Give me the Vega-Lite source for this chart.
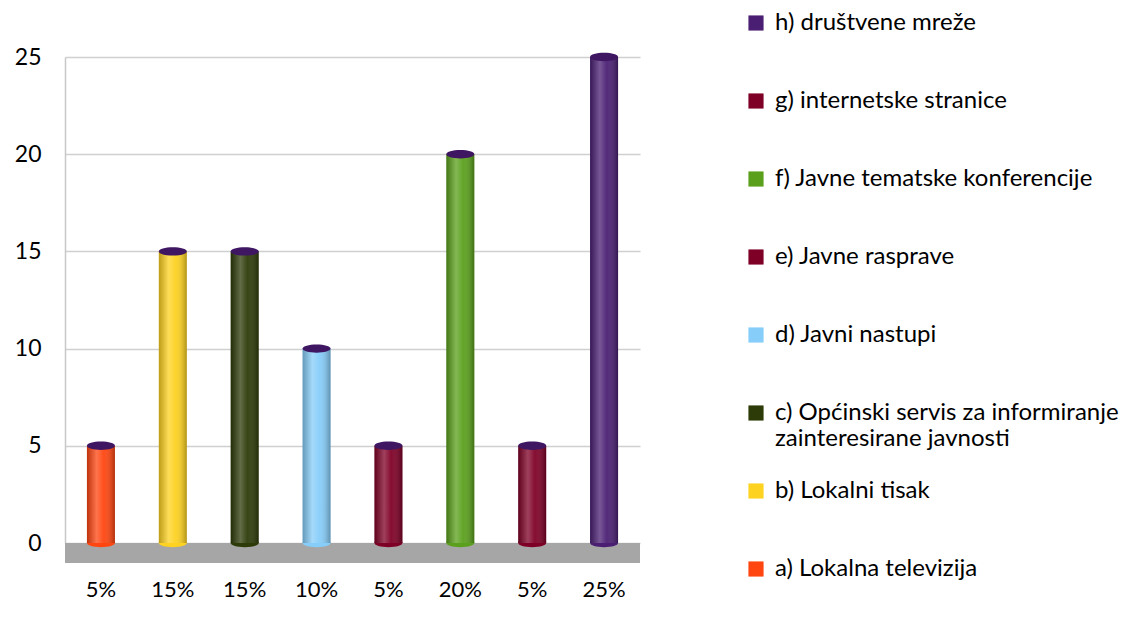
{
  "$schema": "https://vega.github.io/schema/vega-lite/v6.json",
  "width": 575,
  "height": 486,
  "autosize": {"type": "none"},
  "padding": {"left": 65, "top": 57, "right": 487, "bottom": 95},
  "background": "white",
  "config": {
    "font": "Lato",
    "view": {"stroke": null},
    "axis": {"labelFont": "Lato", "labelFontSize": 23, "labelColor": "#000000"}
  },
  "data": {
    "values": [
      {"key": "a", "pct": "5%", "name": "a) Lokalna televizija", "value": 5},
      {"key": "b", "pct": "15%", "name": "b) Lokalni tisak", "value": 15},
      {"key": "c", "pct": "15%", "name": "c) Općinski servis za informiranje|zainteresirane javnosti", "value": 15},
      {"key": "d", "pct": "10%", "name": "d) Javni nastupi", "value": 10},
      {"key": "e", "pct": "5%", "name": "e) Javne rasprave", "value": 5},
      {"key": "f", "pct": "20%", "name": "f) Javne tematske konferencije", "value": 20},
      {"key": "g", "pct": "5%", "name": "g) internetske stranice", "value": 5},
      {"key": "h", "pct": "25%", "name": " h) društvene mreže", "value": 25}
    ]
  },
  "encoding": {
    "x": {
      "field": "key",
      "type": "nominal",
      "sort": ["a", "b", "c", "d", "e", "f", "g", "h"],
      "axis": {
        "title": null,
        "domain": false,
        "ticks": false,
        "labelAngle": 0,
        "labelPadding": 36,
        "labelFontSize": 22,
        "labelExpr": "datum.value == 'a' ? '5%' : datum.value == 'b' ? '15%' : datum.value == 'c' ? '15%' : datum.value == 'd' ? '10%' : datum.value == 'e' ? '5%' : datum.value == 'f' ? '20%' : datum.value == 'g' ? '5%' : '25%'"
      }
    },
    "y": {
      "field": "value",
      "type": "quantitative",
      "scale": {"domain": [0, 25]},
      "axis": {
        "title": null,
        "values": [0, 5, 10, 15, 20, 25],
        "domain": true,
        "domainColor": "#c8c8c8",
        "domainWidth": 1.5,
        "ticks": false,
        "labelPadding": 24,
        "grid": true,
        "gridColor": "#d0d0d0",
        "gridWidth": 1.5
      }
    }
  },
  "layer": [
    {
      "mark": {"type": "rect", "color": "#a6a6a6"},
      "encoding": {
        "x": {"value": 0},
        "x2": {"value": 575},
        "y": {"datum": 0},
        "y2": {"datum": -1.0}
      }
    },
    {
      "mark": {"type": "bar", "size": 28},
      "encoding": {
        "color": {
          "field": "name",
          "type": "nominal",
          "scale": {
            "domain": [" h) društvene mreže", "g) internetske stranice", "f) Javne tematske konferencije", "e) Javne rasprave", "d) Javni nastupi", "c) Općinski servis za informiranje|zainteresirane javnosti", "b) Lokalni tisak", "a) Lokalna televizija"],
            "range": ["#4a1f73", "#7f0027", "#5aa01c", "#7f0027", "#86cdf9", "#2d3b08", "#fdd220", "#ff4510"]
          },
          "legend": {
            "title": null,
            "orient": "none",
            "legendX": 679,
            "legendY": -46,
            "direction": "vertical",
            "columns": 1,
            "gridAlign": "all",
            "symbolType": "square",
            "symbolSize": 230,
            "symbolStrokeWidth": 0,
            "labelFont": "Lato",
            "labelFontSize": 24,
            "labelLineHeight": 32,
            "labelColor": "#000000",
            "labelLimit": 420,
            "labelOffset": 7,
            "rowPadding": 28,
            "labelExpr": "split(datum.label, '|')"
          }
        }
      }
    },
    {
      "mark": {
        "type": "point",
        "filled": true,
        "opacity": 1,
        "size": 784,
        "shape": "M-1,0 A1,0.3 0 1,0 1,0 A1,0.3 0 1,0 -1,0 Z"
      },
      "encoding": {
        "y": {"datum": 0},
        "color": {"field": "name", "type": "nominal"}
      }
    },
    {
      "mark": {
        "type": "bar",
        "size": 28,
        "fill": {
          "gradient": "linear",
          "x1": 0, "x2": 1, "y1": 0, "y2": 0,
          "stops": [
            {"offset": 0, "color": "rgba(0,0,0,0.25)"},
            {"offset": 0.35, "color": "rgba(255,255,255,0.25)"},
            {"offset": 0.6, "color": "rgba(255,255,255,0.05)"},
            {"offset": 1, "color": "rgba(0,0,0,0.3)"}
          ]
        }
      }
    },
    {
      "mark": {
        "type": "point",
        "filled": true,
        "opacity": 1,
        "size": 784,
        "shape": "M-1,0 A1,0.3 0 1,0 1,0 A1,0.3 0 1,0 -1,0 Z",
        "color": "#3e1662"
      }
    }
  ]
}
